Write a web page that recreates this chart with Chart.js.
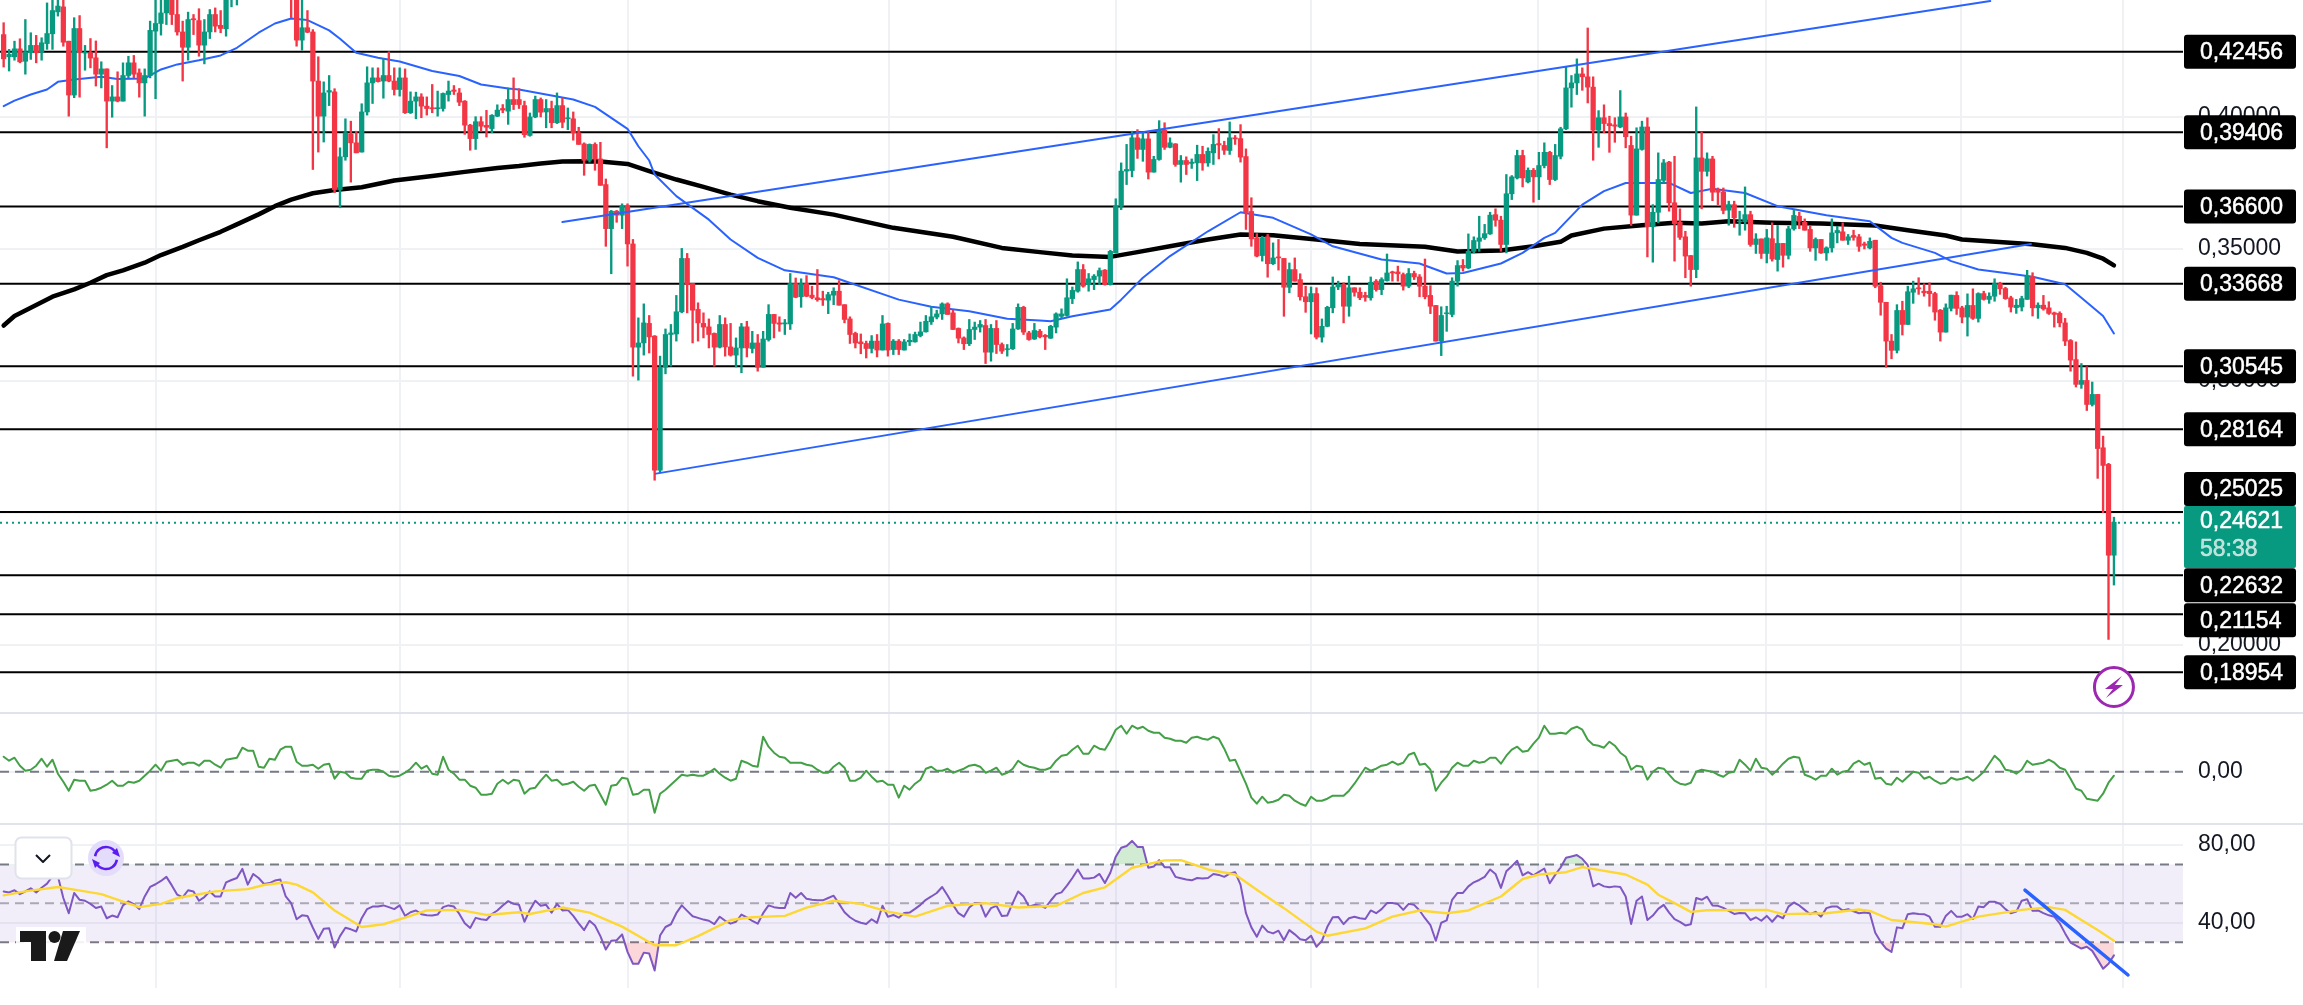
<!DOCTYPE html>
<html><head><meta charset="utf-8"><title>Chart</title>
<script src="https://cdn.jsdelivr.net/npm/chart.js@4/dist/chart.umd.min.js"></script>
<style>html,body{margin:0;padding:0;background:#fff}canvas{display:block}</style>
</head><body><canvas id="c" width="2303" height="1005" style="width:2303px;height:1005px"></canvas>
<script>
// All prices below are in units of 0.0001
const PRICE_UNIT = 0.0001;
const opens = [
4311,4227,4227,4257,4210,4242,4270,4244,4277,4314,
4397,4416,4286,4082,4334,4241,4242,4223,4161,4181,
4059,4075,4059,4156,4204,4166,4128,4156,4324,4353,
4393,4450,4387,4321,4263,4371,4364,4271,4321,4387,
4346,4333,4450,4463,4480,4530,4550,4590,4570,4600,
4570,4590,4540,4510,4470,4290,4337,4321,4135,4002,
4093,4094,3724,3848,3935,3901,3866,4018,4128,4147,
4135,4156,4135,4103,4147,4015,4059,4075,4040,4034,
4030,4031,4084,4101,4090,4059,3968,3917,3981,3967,
3955,4002,4031,4021,4065,4065,4042,3929,3999,4065,
4018,4031,3977,4042,3992,3992,3939,3897,3835,3895,
3840,3743,3576,3642,3627,3661,3518,3127,3143,3217,
3169,2661,3051,3175,3177,3261,3463,3368,3270,3217,
3204,3179,3127,3213,3128,3097,3124,3204,3122,3143,
3051,3156,3251,3219,3215,3215,3368,3318,3368,3324,
3314,3311,3305,3324,3339,3288,3234,3179,3147,3141,
3122,3150,3116,3217,3118,3150,3116,3147,3147,3171,
3185,3223,3241,3253,3291,3257,3198,3162,3140,3194,
3203,3209,3108,3198,3137,3118,3121,3196,3278,3181,
3158,3187,3172,3161,3203,3244,3247,3311,3339,3421,
3364,3383,3396,3419,3364,3484,3661,3794,3796,3920,
3876,3916,3790,3838,3949,3884,3897,3819,3834,3823,
3825,3857,3825,3863,3898,3891,3872,3920,3917,3849,
3641,3541,3474,3545,3443,3469,3463,3354,3421,3383,
3318,3299,3330,3165,3206,3276,3355,3364,3282,3352,
3335,3323,3314,3377,3345,3379,3412,3412,3402,3358,
3406,3393,3358,3323,3285,3150,3254,3251,3377,3437,
3427,3490,3528,3541,3556,3629,3608,3516,3708,3768,
3853,3753,3797,3772,3815,3865,3762,3850,3954,4109,
4128,4162,4151,4112,3949,3996,3974,3969,3961,3999,
3891,3627,3876,3961,3583,3638,3759,3828,3674,3600,
3545,3474,3421,3844,3793,3840,3722,3715,3646,3667,
3602,3602,3629,3516,3537,3482,3538,3459,3520,3475,
3575,3623,3600,3573,3503,3535,3484,3503,3560,3564,
3532,3550,3545,3518,3503,3532,3360,3297,3150,3115,
3266,3213,3335,3352,3339,3339,3330,3267,3184,3274,
3323,3276,3241,3285,3236,3330,3308,3320,3368,3349,
3314,3277,3279,3308,3394,3276,3286,3276,3257,3255,
3219,3152,3080,2986,3001,2910,2948,2746,2683,2339];
const closes = [
4219,4236,4257,4208,4246,4270,4242,4280,4315,4402,
4419,4282,4082,4334,4242,4244,4222,4161,4181,4059,
4075,4059,4156,4204,4161,4128,4156,4327,4353,4393,
4450,4387,4321,4263,4368,4367,4271,4321,4387,4343,
4334,4450,4463,4469,4530,4550,4590,4570,4600,4570,
4590,4540,4510,4470,4290,4337,4320,4135,4002,4090,
4099,3724,3848,3939,3901,3863,4018,4128,4147,4133,
4156,4135,4103,4147,4015,4059,4075,4040,4031,4030,
4034,4088,4097,4096,4055,3968,3917,3981,3964,3960,
4005,4025,4025,4065,4046,4046,3932,3999,4065,4017,
4031,3977,4042,3979,3996,3939,3895,3835,3895,3840,
3740,3576,3642,3627,3661,3518,3127,3143,3219,3166,
2661,3051,3175,3181,3261,3463,3364,3267,3219,3203,
3175,3127,3213,3128,3097,3124,3204,3124,3143,3051,
3158,3251,3217,3214,3219,3368,3316,3368,3320,3315,
3307,3306,3326,3339,3286,3232,3175,3143,3140,3122,
3150,3116,3215,3116,3150,3118,3147,3153,3175,3185,
3225,3242,3253,3291,3251,3194,3161,3140,3194,3203,
3213,3108,3198,3137,3112,3121,3196,3278,3184,3156,
3190,3166,3166,3206,3253,3253,3314,3342,3421,3358,
3386,3396,3417,3364,3490,3661,3794,3800,3920,3876,
3916,3790,3838,3949,3884,3901,3819,3834,3819,3828,
3857,3825,3869,3895,3893,3873,3920,3916,3847,3638,
3537,3472,3541,3443,3465,3465,3354,3421,3377,3318,
3299,3330,3165,3206,3278,3355,3364,3282,3352,3335,
3314,3316,3373,3345,3383,3408,3408,3405,3358,3406,
3393,3358,3318,3282,3150,3247,3257,3377,3436,3427,
3490,3531,3541,3557,3627,3608,3516,3708,3772,3853,
3768,3797,3772,3815,3865,3762,3853,3954,4109,4128,
4162,4151,4112,3949,3996,3974,3966,3964,3999,3924,
3627,3878,3961,3583,3638,3762,3825,3674,3595,3543,
3472,3421,3844,3793,3840,3714,3714,3645,3667,3617,
3604,3629,3516,3537,3482,3541,3461,3520,3475,3575,
3626,3604,3570,3503,3535,3484,3503,3560,3569,3532,
3545,3543,3509,3513,3528,3358,3297,3150,3115,3266,
3213,3337,3348,3348,3333,3330,3260,3184,3276,3324,
3274,3241,3285,3236,3330,3308,3320,3368,3348,3311,
3279,3286,3311,3396,3276,3286,3272,3255,3251,3219,
3150,3078,2986,3001,2910,2948,2743,2679,2339,2464];
const highs = [
4356,4255,4286,4295,4368,4318,4308,4299,4431,4457,
4469,4469,4286,4375,4383,4270,4296,4287,4208,4181,
4118,4170,4204,4229,4232,4181,4181,4362,4469,4482,
4494,4482,4457,4362,4396,4387,4409,4368,4406,4412,
4402,4469,4482,4482,4560,4590,4620,4640,4630,4650,
4620,4610,4580,4560,4520,4500,4402,4330,4227,4132,
4156,4106,3882,3992,3983,3945,4049,4189,4185,4185,
4219,4246,4185,4185,4181,4094,4093,4087,4075,4122,
4097,4090,4135,4118,4107,4061,3971,4000,4000,4024,
4008,4045,4046,4109,4147,4106,4059,4014,4078,4071,
4065,4059,4090,4071,4033,4018,3960,3901,3897,3901,
3903,3764,3645,3645,3670,3670,3535,3238,3291,3247,
3171,3093,3196,3213,3323,3501,3482,3368,3295,3257,
3234,3181,3247,3238,3217,3162,3217,3225,3187,3175,
3187,3288,3251,3242,3232,3406,3389,3386,3398,3358,
3421,3339,3335,3352,3379,3288,3242,3184,3177,3150,
3171,3175,3247,3219,3156,3156,3156,3177,3184,3222,
3247,3280,3267,3295,3295,3267,3200,3166,3232,3222,
3228,3232,3213,3228,3143,3137,3217,3291,3282,3187,
3217,3194,3175,3210,3257,3272,3386,3355,3450,3440,
3406,3402,3427,3421,3494,3689,3825,3895,3945,3951,
3939,3945,3850,3985,3977,3920,3898,3853,3848,3840,
3892,3888,3882,3932,3955,3907,3980,3929,3970,3878,
3693,3557,3547,3554,3522,3535,3463,3446,3465,3405,
3358,3355,3352,3234,3282,3393,3377,3371,3396,3352,
3352,3335,3393,3383,3390,3480,3415,3434,3408,3425,
3415,3402,3461,3360,3285,3280,3282,3390,3455,3459,
3556,3545,3623,3592,3638,3651,3623,3781,3777,3873,
3873,3806,3804,3865,3901,3869,3895,3960,4189,4156,
4219,4185,4336,4151,4023,4045,4002,3996,4099,4014,
3926,3958,3983,3996,3667,3863,3838,3831,3850,3651,
3566,3474,4037,3942,3863,3850,3730,3730,3680,3680,
3642,3734,3642,3557,3537,3573,3598,3588,3520,3585,
3645,3638,3613,3585,3541,3535,3507,3613,3585,3598,
3554,3570,3554,3525,3541,3532,3373,3297,3175,3288,
3301,3358,3377,3390,3367,3371,3335,3270,3291,3324,
3337,3282,3329,3348,3333,3339,3333,3386,3373,3354,
3320,3308,3320,3418,3409,3295,3323,3299,3260,3261,
3236,3156,3147,3065,3053,2995,2948,2790,2687,2483];
const lows = [
4188,4173,4214,4204,4161,4217,4204,4214,4255,4255,
4381,4267,4002,4072,4074,4176,4185,4116,4109,3882,
3998,4056,4059,4147,4147,4074,4002,4147,4068,4309,
4349,4349,4309,4135,4214,4311,4229,4200,4296,4321,
4318,4305,4416,4423,4465,4510,4530,4550,4545,4550,
4540,4510,4480,4375,4267,4252,4318,3800,3866,3904,
4042,3712,3655,3835,3752,3863,3866,4006,4050,4131,
4070,4132,4082,4078,4012,4012,3992,3996,4006,4015,
4002,4021,4059,4084,4042,3933,3873,3876,3945,3923,
3939,4000,4015,3971,4027,4031,3922,3926,3996,3999,
3958,3958,3974,3958,3951,3911,3895,3778,3828,3797,
3740,3509,3405,3600,3576,3434,3017,3002,3097,3105,
2623,2651,3026,3055,3150,3257,3257,3143,3150,3162,
3124,3055,3124,3093,3093,3052,3030,3090,3105,3036,
3051,3150,3162,3187,3175,3194,3314,3278,3318,3310,
3301,3285,3254,3288,3286,3219,3141,3124,3102,3086,
3105,3090,3116,3093,3099,3099,3116,3133,3146,3166,
3184,3213,3234,3232,3251,3194,3143,3118,3133,3156,
3184,3065,3074,3103,3103,3093,3118,3194,3175,3153,
3156,3162,3118,3160,3181,3238,3244,3292,3335,3354,
3339,3345,3364,3362,3362,3484,3648,3743,3772,3842,
3831,3764,3790,3835,3876,3882,3812,3752,3781,3804,
3758,3797,3812,3819,3840,3857,3857,3895,3828,3573,
3509,3469,3453,3392,3440,3419,3244,3333,3377,3305,
3259,3177,3158,3146,3204,3257,3345,3219,3244,3320,
3307,3301,3305,3339,3326,3377,3377,3377,3343,3352,
3383,3318,3310,3254,3150,3095,3187,3242,3358,3415,
3424,3484,3490,3535,3554,3585,3490,3484,3686,3764,
3734,3749,3676,3686,3806,3743,3758,3840,3951,4036,
4084,4100,4052,3835,3884,3939,3865,3903,3958,3882,
3588,3627,3873,3469,3449,3598,3749,3642,3453,3535,
3390,3358,3390,3651,3775,3682,3667,3632,3589,3581,
3551,3570,3509,3482,3463,3446,3453,3415,3430,3461,
3570,3576,3570,3490,3456,3482,3456,3487,3522,3532,
3516,3532,3490,3499,3499,3352,3248,3051,3083,3105,
3173,3213,3293,3327,3320,3282,3229,3150,3184,3264,
3251,3219,3169,3232,3222,3305,3293,3301,3327,3308,
3260,3255,3264,3308,3245,3236,3267,3251,3203,3204,
3133,3036,2976,2971,2887,2904,2630,2500,2020,2226];

const flowValues = [
15,11,14,6,1,2,6,13,5,12,
-2,-10,-19,-8,-9,-9,-19,-18,-16,-13,
-9,-14,-14,-10,-11,-9,-4,1,7,1,
10,11,12,7,9,9,6,11,11,7,
4,12,13,14,24,21,21,5,4,13,
12,22,25,25,10,6,6,7,3,7,
8,-7,0,-1,-6,-7,-7,1,2,2,
0,-4,-5,-4,-1,3,9,3,6,-2,
-3,15,2,-2,-8,-8,-14,-16,-23,-23,
-22,-12,-8,-12,-8,-9,-22,-17,-16,-9,
-3,-9,-8,-13,-12,-10,-15,-19,-14,-13,
-23,-33,-14,-13,-6,-7,-23,-22,-18,-18,
-41,-22,-18,-13,-8,-3,-4,-3,-4,-4,
-1,3,-2,-6,-9,-7,11,9,6,5,
35,25,19,15,14,9,9,9,7,6,
2,-1,-1,5,9,4,-9,-9,-6,1,
-5,-10,-9,-13,-13,-26,-14,-18,-12,-8,
3,5,1,1,3,-1,1,3,6,7,
5,-1,1,4,-3,-1,3,11,7,5,
4,2,2,4,11,16,17,22,26,18,
18,26,23,22,31,42,46,38,46,43,
45,41,39,39,34,33,31,31,29,34,
35,33,32,35,33,23,11,12,0,-12,
-26,-32,-25,-31,-30,-28,-23,-24,-29,-32,
-34,-25,-29,-29,-27,-24,-24,-24,-19,-12,
-4,4,1,3,6,7,10,7,9,17,
19,7,8,2,-19,-11,-5,4,9,6,
6,11,9,10,14,14,8,16,22,25,
20,21,28,34,46,38,38,39,38,43,
45,42,32,27,26,24,30,26,19,15,
2,6,5,-8,0,4,3,-3,-9,-12,
-13,-11,0,2,1,0,-3,-5,-1,0,
12,7,1,13,4,3,-3,2,8,13,
15,14,-3,-5,-8,-4,-4,3,-3,0,
1,8,11,7,9,-7,-6,-12,-13,-6,
-10,-5,0,-1,-7,-5,-9,-12,-11,-6,
-8,-7,-5,-9,-5,0,8,16,11,2,
1,-2,2,11,7,8,9,12,9,4,
2,-7,-17,-19,-27,-28,-29,-22,-11,-4];

const rsiValues = [
56.1,55.6,56.7,54.7,56.1,57.7,55.6,58,60.1,63.9,
63.9,52.7,44.9,55.3,51.8,51.3,49.7,47.6,48.3,42.3,
43.7,42.8,48.9,51,49.6,47,53.5,58.4,59.8,61.5,
63.6,59.2,54.4,53,56.7,56.1,51.3,53.2,56.1,53.5,
53.5,60.8,62,63,67.7,59.6,65.1,63,59.9,60.4,
61.7,62.2,53.5,50.1,41.8,43.8,43.5,37.4,31.7,36.9,
37.1,27.2,33.1,37.4,36.6,35.5,42.3,47,48.3,48.3,
48.9,48,47,48.9,43.5,45.4,46.3,44.4,43.8,43.7,
44.2,48,48.9,48.3,44.5,39.7,37.3,42.5,41.8,41.4,
44.5,46.3,48.9,51.1,49.7,49.2,40.5,46.6,51.3,48.7,
49.2,45.2,49.7,46.3,46.6,43.5,39.7,36.2,41,38.6,
33.1,26.2,30.7,31,34,25,18.9,18.9,24.6,24.1,
15.4,33.4,37.8,39.2,44.9,48.9,46.1,43.3,42.5,41.6,
41,39.3,43.1,41,39.5,40.5,44.2,42.8,40.9,39.5,
44.9,48.9,48,47.6,47.6,55.3,52.8,55.3,52.3,51.8,
51.5,51.5,52.7,53.9,49.7,45.4,42.8,41,40,39.3,
41.8,39.9,48.7,43.1,44,42.6,45,45.2,47.1,49.2,
51.8,53.5,55.3,58.4,54,49.2,44.9,43.1,47.8,50.2,
50.1,43.1,47.5,48.7,43.5,43.7,50.1,56.1,53.5,48.3,
49.2,48.9,47.6,51.3,54.7,55.6,59.1,63,67.4,62.7,
62.7,63.2,65.1,60.4,65.7,74,78.6,79.5,82.1,79,
79,68.3,68.9,72.2,68.6,68.6,63.6,62.9,62.2,61.8,
63,62.7,63,65.1,64.6,63.6,65.3,66,59.6,44.9,
37.6,32.8,38.5,35.4,34.5,35.9,31,36.2,34,31.5,
31,33.3,27.6,30.7,37.9,42.8,43,39.3,42.3,43.1,
42.3,41.9,46.3,44.9,47,50.1,50.1,49.6,46.6,49.7,
49.2,46.3,42.3,38.8,30.7,40,41.2,51.8,55.3,55.3,
58.7,60.8,62,63.6,67.4,65.1,57.9,66.5,69.1,71.9,
64.4,66,64.4,66.2,67.9,60.3,64.6,68.4,73.4,74.1,
74.8,72.9,69.6,58.7,60.1,58.7,58.2,58.7,58.4,53.5,
39.3,51.3,53.5,41.4,43.7,47.1,49.2,45.2,41.8,40.4,
38.6,39.2,52.7,51.8,53.4,48.9,48.7,47.6,46.1,44.5,
45,44.9,41.4,42.8,41,43.5,40.5,43.7,42.3,48.3,
50.4,48.9,46.6,44.4,45.6,43.1,47.5,48.3,48.3,46.3,
47,45.9,44.9,45.2,44.9,34.8,30.2,26.7,25,37.6,
37.1,44.4,44.9,44.5,44.4,43.1,37.9,37.9,43.5,46.1,
43.1,43.1,44.4,41.9,48.3,48,50.8,50.8,49.7,47,
44.9,45.7,51.3,52.1,46.1,46.3,44.9,43.8,43.1,39.7,
34.5,29.8,28.2,26.7,27.6,25.5,21,16.3,18.9,23.2];

const rsiMaBars = [0,4,10,13,18,25,29,32,39,45,48,52,54,57,61,66,70,74,78,84,89,95,97,103,108,114,120,124,128,134,138,144,148,153,158,163,168,174,181,187,194,199,203,208,214,217,222,227,231,236,242,244,251,256,261,266,270,276,280,283,288,291,299,303,305,308,311,314,325,328,336,342,344,348,356,358,364,372,377,380,383,386,389];
const rsiMaValues = [54.1,56.1,58.4,57,54.7,48,49.7,52.7,56.1,57.3,59.4,60.8,59.6,55.6,46.3,37.8,39.2,42.6,46.3,46.6,44,45.4,44.5,47.8,45.2,38,28.4,28.4,33.1,41.4,42.8,43.5,47.8,51.3,49.7,45.7,43.1,48.7,50.1,47.8,48.7,55.3,58.2,68.3,72.1,72.2,67.4,64.8,57,47.5,35.4,33.3,37.1,43.1,46.3,44.9,46.3,53.5,62.5,64.8,66,68.6,64.8,59.6,54.4,50.1,45.6,46.4,46.6,44.4,44.9,46.8,46.1,41.4,39.2,38,43.1,46.6,48,46.6,41.4,36.2,30.7];

const ma200Bars = [0,2,5,9,13,16,19,22,26,29,33,36,40,43,47,50,53,57,61,66,72,79,85,91,95,99,103,107,110,115,119,124,129,134,139,145,153,164,175,184,191,197,204,209,216,222,228,234,242,250,262,268,276,282,287,289,295,302,308,313,318,326,335,345,351,358,361,374,380,384,387,389];
const ma200Values = [3209,3245,3276,3318,3346,3371,3400,3418,3447,3476,3507,3532,3564,3592,3630,3661,3686,3710,3722,3733,3758,3775,3791,3806,3813,3823,3830,3831,3830,3821,3794,3762,3734,3705,3680,3655,3629,3579,3545,3503,3487,3474,3469,3487,3513,3535,3554,3551,3535,3518,3507,3489,3493,3509,3526,3550,3576,3589,3598,3595,3604,3598,3595,3588,3570,3550,3535,3517,3503,3484,3462,3437];
const ma50Bars = [0,2,5,8,10,13,18,21,26,29,32,36,40,43,47,50,53,56,60,62,65,69,73,79,84,88,93,95,105,109,115,117,119,120,124,130,134,139,144,153,165,171,178,185,191,193,197,204,206,210,215,222,228,234,241,245,254,261,266,269,276,280,284,286,291,295,299,307,311,315,321,327,336,344,348,350,356,359,364,370,374,380,383,387,389];
const ma50Values = [4040,4061,4084,4103,4132,4141,4151,4143,4145,4179,4198,4214,4232,4261,4318,4353,4372,4366,4327,4295,4242,4223,4209,4173,4154,4122,4107,4103,4065,4037,3954,3888,3834,3781,3699,3610,3535,3465,3418,3392,3307,3280,3263,3235,3228,3225,3244,3270,3307,3390,3472,3566,3638,3617,3554,3509,3459,3444,3406,3408,3444,3484,3541,3560,3667,3718,3749,3749,3711,3727,3711,3661,3627,3604,3541,3522,3484,3453,3421,3405,3394,3365,3314,3245,3179];

const levels = [0.42456,0.39406,0.36600,0.33668,0.30545,0.28164,0.25025,0.22632,0.21154,0.18954];
const lastPrice = 0.24621;
const countdown = "58:38";
const upperChannel = [[103,0.3601],[366.2,0.4438]];
const lowerChannel = [[120.25,0.2648],[373.7,0.3518]];
const rsiTrend = [[372.6,56.8],[391.6,13.1]];
const priceTicks = [0.20,0.25,0.30,0.35,0.40];
const flowTicks = [0];
const rsiTicks = [40,80];
const timeGrid = [4.1,52,94,136.2,190.1,219.9,262,303.8,345.8,375.7];

// --- styling and layout constants ---
const UP='#089981', DOWN='#f23645', BLUE='#2962ff', GRID='#f0f1f5', TXT='#131722', DASH='#787b86';
const FONT='23px "Liberation Sans", Arial, sans-serif';
const XMIN=-0.673, XMAX=401.73;
const labelShift={0.25025:-23,0.22632:10,0.21154:6};

const bars=opens.map((_,i)=>i);
const pts=(xs,ys,k=1)=>xs.map((x,i)=>({x,y:ys[i]*k}));
const seg=p=>p.map(([x,y])=>({x,y}));
const lineDs=(data,color,width,yAxisID,order,extra={})=>Object.assign({type:'line',data,borderColor:color,borderWidth:width,yAxisID,order,pointRadius:0,tension:0,fill:false,borderCapStyle:'round',borderJoinStyle:'round'},extra);
const hspan=v=>[{x:XMIN,y:v},{x:XMAX,y:v}];

const colors=opens.map((o,i)=>closes[i]>=o?UP:DOWN);
const datasets=[
  {type:'bar',data:bars.map(i=>({x:i,y:[lows[i]*PRICE_UNIT,highs[i]*PRICE_UNIT]})),backgroundColor:colors,barThickness:1.7,grouped:false,yAxisID:'yPrice',order:3,borderWidth:0,borderSkipped:false},
  {type:'bar',data:bars.map(i=>({x:i,y:[Math.min(opens[i],closes[i])*PRICE_UNIT,Math.max(opens[i],closes[i])*PRICE_UNIT]})),backgroundColor:colors,barThickness:4.6,grouped:false,yAxisID:'yPrice',order:2,borderWidth:0,borderSkipped:false},
  ...levels.map(v=>lineDs(hspan(v),'#000',2,'yPrice',20,{borderCapStyle:'butt'})),
  lineDs(hspan(lastPrice),UP,2,'yPrice',19,{borderDash:[2,4],borderCapStyle:'butt'}),
  lineDs(pts(ma200Bars,ma200Values,PRICE_UNIT),'#000',4.5,'yPrice',10),
  lineDs(pts(ma50Bars,ma50Values,PRICE_UNIT),BLUE,2,'yPrice',9),
  lineDs(seg(upperChannel),BLUE,2,'yPrice',1),
  lineDs(seg(lowerChannel),BLUE,2,'yPrice',1),
  // flow pane
  lineDs(hspan(0),DASH,2,'yFlow',8,{borderDash:[9,6],borderCapStyle:'butt'}),
  lineDs(pts(bars,flowValues),'#43a047',2,'yFlow',7),
  // RSI pane
  lineDs(hspan(70),'transparent',0,'yRsi',18,{fill:{target:{value:30},above:'rgba(126,87,194,0.1)',below:'rgba(126,87,194,0.1)'}}),
  lineDs(hspan(70),DASH,2,'yRsi',8,{borderDash:[9,6],borderCapStyle:'butt'}),
  lineDs(hspan(50),'rgba(120,123,134,0.6)',2,'yRsi',8,{borderDash:[9,6],borderCapStyle:'butt'}),
  lineDs(hspan(30),DASH,2,'yRsi',8,{borderDash:[9,6],borderCapStyle:'butt'}),
  lineDs(pts(bars,rsiValues),'transparent',0,'yRsi',7,{fill:{target:{value:70},above:'rgba(76,175,80,0.25)',below:'transparent'}}),
  lineDs(pts(bars,rsiValues),'transparent',0,'yRsi',7,{fill:{target:{value:30},above:'transparent',below:'rgba(242,54,69,0.2)'}}),
  lineDs(pts(bars,rsiValues),'#7e57c2',2,'yRsi',6),
  lineDs(pts(rsiMaBars,rsiMaValues),'#fdd835',2.4,'yRsi',5),
  lineDs(seg(rsiTrend),BLUE,3.5,'yRsi',1),
];

const comma=(v,d)=>v.toFixed(d).replace('.',',');
function paneScale(stackWeight,min,max,ticksList,dec,weight){
  return {type:'linear',position:'right',stack:'panes',stackWeight,weight,min,max,
    afterBuildTicks:s=>{s.ticks=ticksList.map(value=>({value}))},
    afterFit:s=>{s.width=120;s.paddingTop=0;s.paddingBottom=0},
    grid:{color:GRID,lineWidth:2,drawTicks:false},
    border:{display:false},
    ticks:{autoSkip:false,padding:15,crossAlign:'near',color:TXT,font:{family:'"Liberation Sans", Arial, sans-serif',size:23},callback:v=>comma(+v,dec)}};
}

const overlay={id:'overlay',afterDraw(chart){
  const c=chart.ctx,yP=chart.scales.yPrice,yF=chart.scales.yFlow,xS=chart.scales.x;
  c.save();
  // pane separators
  c.fillStyle='#e0e3eb';
  c.fillRect(0,yP.bottom-1,chart.width,2);
  c.fillRect(0,yF.bottom-1,chart.width,2);
  // price labels
  const bx=2184,bw=112,bh=34,tx=2200;
  c.textBaseline='middle';c.textAlign='left';
  c.lineJoin='round';
  const boldText=(s,x,y,col)=>{c.fillStyle=col;c.strokeStyle=col;c.lineWidth=0.5;c.font=FONT;c.fillText(s,x,y);c.strokeText(s,x,y)};
  levels.forEach(v=>{
    const cy=yP.getPixelForValue(v)+(labelShift[v]||0);
    c.fillStyle='#000';c.beginPath();c.roundRect(bx,cy-bh/2,bw,bh,3);c.fill();
    boldText(comma(v,5),tx,cy+1,'#fff');
  });
  const ly=yP.getPixelForValue(lastPrice);
  c.fillStyle=UP;c.beginPath();c.roundRect(bx,506,bw,62,2);c.fill();
  boldText(comma(lastPrice,5),tx,ly-1,'#fff');
  boldText(countdown,tx,550,'rgba(255,255,255,0.7)');
  // lightning badge
  const ix=xS.getPixelForValue(bars[bars.length-1]),iy=687;
  c.fillStyle='#fff';c.strokeStyle='#9c27b0';c.lineWidth=3;
  c.beginPath();c.arc(ix,iy,19.5,0,Math.PI*2);c.fill();c.stroke();
  c.fillStyle='#9c27b0';c.beginPath();
  [[8,-11],[-9,2],[-1,2],[-8,11],[9,-2],[1,-2]].forEach(([dx,dy],k)=>k?c.lineTo(ix+dx,iy+dy):c.moveTo(ix+dx,iy+dy));
  c.closePath();c.fill();
  // chevron button
  c.fillStyle='#fff';c.strokeStyle='#e0e3eb';c.lineWidth=2;
  c.beginPath();c.roundRect(15.5,837.5,56,41,6);c.fill();c.stroke();
  c.strokeStyle='#131722';c.lineWidth=2;c.beginPath();c.moveTo(36,855);c.lineTo(43,862);c.lineTo(50,855);c.stroke();
  // refresh icon
  c.fillStyle='#e3dcfb';c.beginPath();c.arc(106,858,18,0,Math.PI*2);c.fill();
  c.strokeStyle='#5a1cf0';c.lineWidth=2.5;
  c.beginPath();c.arc(106,858,11,Math.PI*1.05,Math.PI*1.85);c.stroke();
  c.beginPath();c.arc(106,858,11,Math.PI*0.05,Math.PI*0.85);c.stroke();
  c.fillStyle='#5a1cf0';
  c.beginPath();c.moveTo(120,857);c.lineTo(112,853);c.lineTo(117,848);c.closePath();c.fill();
  c.beginPath();c.moveTo(92,859);c.lineTo(100,863);c.lineTo(95,868);c.closePath();c.fill();
  // logo
  c.fillStyle='rgba(255,255,255,0.9)';c.fillRect(16,927,70,36);
  c.fillStyle='#1a1a1a';
  c.fillRect(20,931,26,11);c.fillRect(31,931,15,30);
  c.beginPath();c.arc(54.5,937,6,0,Math.PI*2);c.fill();
  c.beginPath();c.moveTo(63,931);c.lineTo(80,931);c.lineTo(67,961);c.lineTo(54,961);c.closePath();c.fill();
  c.restore();
}};

new Chart(document.getElementById('c'),{
  data:{datasets},
  plugins:[overlay],
  options:{
    responsive:false,animation:false,devicePixelRatio:1,
    layout:{padding:{left:0,right:0,top:0,bottom:17}},
    plugins:{legend:{display:false},tooltip:{enabled:false},title:{display:false}},
    events:[],
    scales:{
      x:{type:'linear',min:XMIN,max:XMAX,offset:false,
        afterBuildTicks:s=>{s.ticks=timeGrid.map(value=>({value}))},
        grid:{color:GRID,lineWidth:2,drawTicks:false},border:{display:false},
        ticks:{display:false}},
      yPrice:paneScale(713,0.17413,0.44420,priceTicks,5,1),
      yFlow:paneScale(111,-52.3,58.7,flowTicks,2,2),
      yRsi:paneScale(164,6.4,90.8,rsiTicks,2,3)
    }
  }
});
</script></body></html>
